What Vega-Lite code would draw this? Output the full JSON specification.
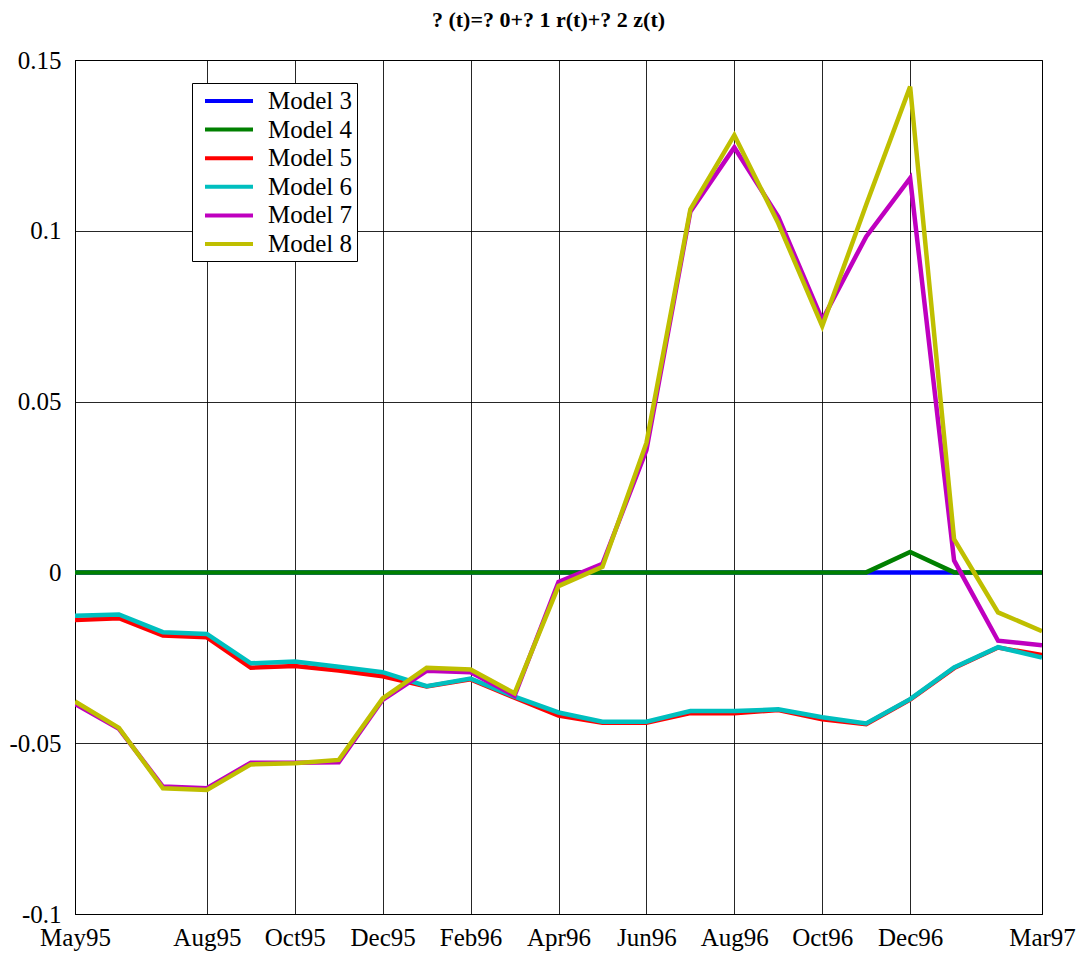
{
  "$schema": "https://vega.github.io/schema/vega-lite/v6.json",
  "width": 967,
  "height": 854,
  "autosize": {"type": "none"},
  "padding": {"left": 75, "top": 60, "right": 38, "bottom": 42},
  "background": "white",
  "title": {
    "text": "? (t)=? 0+? 1 r(t)+? 2 z(t)",
    "font": "Liberation Serif",
    "fontSize": 22,
    "fontWeight": "bold",
    "color": "black",
    "anchor": "middle",
    "dx": -10,
    "offset": 16
  },
  "config": {
    "font": "Liberation Serif",
    "view": {"stroke": "black", "strokeWidth": 1},
    "axis": {
      "labelFont": "Liberation Serif",
      "labelFontSize": 25,
      "labelColor": "black",
      "domainColor": "black",
      "gridColor": "black",
      "gridOpacity": 0.85,
      "gridWidth": 1,
      "tickSize": 0,
      "title": null
    }
  },
  "data": {
    "values": [
      {"m":"May95","model":"Model 3","v":0},{"m":"Jun95","model":"Model 3","v":0},{"m":"Jul95","model":"Model 3","v":0},{"m":"Aug95","model":"Model 3","v":0},{"m":"Sep95","model":"Model 3","v":0},{"m":"Oct95","model":"Model 3","v":0},{"m":"Nov95","model":"Model 3","v":0},{"m":"Dec95","model":"Model 3","v":0},{"m":"Jan96","model":"Model 3","v":0},{"m":"Feb96","model":"Model 3","v":0},{"m":"Mar96","model":"Model 3","v":0},{"m":"Apr96","model":"Model 3","v":0},{"m":"May96","model":"Model 3","v":0},{"m":"Jun96","model":"Model 3","v":0},{"m":"Jul96","model":"Model 3","v":0},{"m":"Aug96","model":"Model 3","v":0},{"m":"Sep96","model":"Model 3","v":0},{"m":"Oct96","model":"Model 3","v":0},{"m":"Nov96","model":"Model 3","v":0},{"m":"Dec96","model":"Model 3","v":0},{"m":"Jan97","model":"Model 3","v":0},{"m":"Feb97","model":"Model 3","v":0},{"m":"Mar97","model":"Model 3","v":0},
      {"m":"May95","model":"Model 4","v":0},{"m":"Jun95","model":"Model 4","v":0},{"m":"Jul95","model":"Model 4","v":0},{"m":"Aug95","model":"Model 4","v":0},{"m":"Sep95","model":"Model 4","v":0},{"m":"Oct95","model":"Model 4","v":0},{"m":"Nov95","model":"Model 4","v":0},{"m":"Dec95","model":"Model 4","v":0},{"m":"Jan96","model":"Model 4","v":0},{"m":"Feb96","model":"Model 4","v":0},{"m":"Mar96","model":"Model 4","v":0},{"m":"Apr96","model":"Model 4","v":0},{"m":"May96","model":"Model 4","v":0},{"m":"Jun96","model":"Model 4","v":0},{"m":"Jul96","model":"Model 4","v":0},{"m":"Aug96","model":"Model 4","v":0},{"m":"Sep96","model":"Model 4","v":0},{"m":"Oct96","model":"Model 4","v":0},{"m":"Nov96","model":"Model 4","v":0},{"m":"Dec96","model":"Model 4","v":0.006},{"m":"Jan97","model":"Model 4","v":0},{"m":"Feb97","model":"Model 4","v":0},{"m":"Mar97","model":"Model 4","v":0},
      {"m":"May95","model":"Model 5","v":-0.0139},{"m":"Jun95","model":"Model 5","v":-0.0134},{"m":"Jul95","model":"Model 5","v":-0.0185},{"m":"Aug95","model":"Model 5","v":-0.019},{"m":"Sep95","model":"Model 5","v":-0.0279},{"m":"Oct95","model":"Model 5","v":-0.0274},{"m":"Nov95","model":"Model 5","v":-0.0287},{"m":"Dec95","model":"Model 5","v":-0.0304},{"m":"Jan96","model":"Model 5","v":-0.0334},{"m":"Feb96","model":"Model 5","v":-0.0313},{"m":"Mar96","model":"Model 5","v":-0.0367},{"m":"Apr96","model":"Model 5","v":-0.0419},{"m":"May96","model":"Model 5","v":-0.044},{"m":"Jun96","model":"Model 5","v":-0.044},{"m":"Jul96","model":"Model 5","v":-0.0412},{"m":"Aug96","model":"Model 5","v":-0.0412},{"m":"Sep96","model":"Model 5","v":-0.0403},{"m":"Oct96","model":"Model 5","v":-0.043},{"m":"Nov96","model":"Model 5","v":-0.0444},{"m":"Dec96","model":"Model 5","v":-0.0372},{"m":"Jan97","model":"Model 5","v":-0.028},{"m":"Feb97","model":"Model 5","v":-0.022},{"m":"Mar97","model":"Model 5","v":-0.0242},
      {"m":"May95","model":"Model 6","v":-0.0127},{"m":"Jun95","model":"Model 6","v":-0.0123},{"m":"Jul95","model":"Model 6","v":-0.0175},{"m":"Aug95","model":"Model 6","v":-0.018},{"m":"Sep95","model":"Model 6","v":-0.0266},{"m":"Oct95","model":"Model 6","v":-0.0261},{"m":"Nov95","model":"Model 6","v":-0.0276},{"m":"Dec95","model":"Model 6","v":-0.0292},{"m":"Jan96","model":"Model 6","v":-0.0333},{"m":"Feb96","model":"Model 6","v":-0.0311},{"m":"Mar96","model":"Model 6","v":-0.0364},{"m":"Apr96","model":"Model 6","v":-0.041},{"m":"May96","model":"Model 6","v":-0.0437},{"m":"Jun96","model":"Model 6","v":-0.0437},{"m":"Jul96","model":"Model 6","v":-0.0406},{"m":"Aug96","model":"Model 6","v":-0.0406},{"m":"Sep96","model":"Model 6","v":-0.0401},{"m":"Oct96","model":"Model 6","v":-0.0424},{"m":"Nov96","model":"Model 6","v":-0.0442},{"m":"Dec96","model":"Model 6","v":-0.0371},{"m":"Jan97","model":"Model 6","v":-0.0278},{"m":"Feb97","model":"Model 6","v":-0.0219},{"m":"Mar97","model":"Model 6","v":-0.0249},
      {"m":"May95","model":"Model 7","v":-0.0385},{"m":"Jun95","model":"Model 7","v":-0.0458},{"m":"Jul95","model":"Model 7","v":-0.0627},{"m":"Aug95","model":"Model 7","v":-0.0632},{"m":"Sep95","model":"Model 7","v":-0.0557},{"m":"Oct95","model":"Model 7","v":-0.0557},{"m":"Nov95","model":"Model 7","v":-0.0556},{"m":"Dec95","model":"Model 7","v":-0.0373},{"m":"Jan96","model":"Model 7","v":-0.0288},{"m":"Feb96","model":"Model 7","v":-0.0292},{"m":"Mar96","model":"Model 7","v":-0.0361},{"m":"Apr96","model":"Model 7","v":-0.0028},{"m":"May96","model":"Model 7","v":0.0025},{"m":"Jun96","model":"Model 7","v":0.0358},{"m":"Jul96","model":"Model 7","v":0.1056},{"m":"Aug96","model":"Model 7","v":0.1244},{"m":"Sep96","model":"Model 7","v":0.1041},{"m":"Oct96","model":"Model 7","v":0.0739},{"m":"Nov96","model":"Model 7","v":0.0983},{"m":"Dec96","model":"Model 7","v":0.1154},{"m":"Jan97","model":"Model 7","v":0.0035},{"m":"Feb97","model":"Model 7","v":-0.02},{"m":"Mar97","model":"Model 7","v":-0.0213},
      {"m":"May95","model":"Model 8","v":-0.0378},{"m":"Jun95","model":"Model 8","v":-0.0455},{"m":"Jul95","model":"Model 8","v":-0.0632},{"m":"Aug95","model":"Model 8","v":-0.0637},{"m":"Sep95","model":"Model 8","v":-0.0562},{"m":"Oct95","model":"Model 8","v":-0.0559},{"m":"Nov95","model":"Model 8","v":-0.0549},{"m":"Dec95","model":"Model 8","v":-0.0369},{"m":"Jan96","model":"Model 8","v":-0.0279},{"m":"Feb96","model":"Model 8","v":-0.0284},{"m":"Mar96","model":"Model 8","v":-0.0354},{"m":"Apr96","model":"Model 8","v":-0.004},{"m":"May96","model":"Model 8","v":0.0016},{"m":"Jun96","model":"Model 8","v":0.0379},{"m":"Jul96","model":"Model 8","v":0.1063},{"m":"Aug96","model":"Model 8","v":0.128},{"m":"Sep96","model":"Model 8","v":0.1022},{"m":"Oct96","model":"Model 8","v":0.0721},{"m":"Nov96","model":"Model 8","v":0.1076},{"m":"Dec96","model":"Model 8","v":0.1422},{"m":"Jan97","model":"Model 8","v":0.0097},{"m":"Feb97","model":"Model 8","v":-0.0117},{"m":"Mar97","model":"Model 8","v":-0.0172}
    ]
  },
  "mark": {"type": "line", "strokeWidth": 4.5, "strokeJoin": "miter", "clip": true},
  "encoding": {
    "x": {
      "field": "m",
      "type": "ordinal",
      "scale": {
        "type": "point",
        "padding": 0,
        "domain": ["May95","Jun95","Jul95","Aug95","Sep95","Oct95","Nov95","Dec95","Jan96","Feb96","Mar96","Apr96","May96","Jun96","Jul96","Aug96","Sep96","Oct96","Nov96","Dec96","Jan97","Feb97","Mar97"]
      },
      "axis": {
        "values": ["May95","Aug95","Oct95","Dec95","Feb96","Apr96","Jun96","Aug96","Oct96","Dec96","Mar97"],
        "labelAngle": 0,
        "labelPadding": 11,
        "grid": true
      }
    },
    "y": {
      "field": "v",
      "type": "quantitative",
      "scale": {"domain": [-0.1, 0.15], "nice": false, "zero": false},
      "axis": {
        "values": [-0.1, -0.05, 0, 0.05, 0.1, 0.15],
        "labelExpr": "'' + datum.value",
        "labelPadding": 14,
        "grid": true
      }
    },
    "color": {
      "field": "model",
      "type": "nominal",
      "scale": {
        "domain": ["Model 3","Model 4","Model 5","Model 6","Model 7","Model 8"],
        "range": ["#0000ff","#008000","#ff0000","#00bfbf","#bf00bf","#bfbf00"]
      },
      "legend": {
        "orient": "none",
        "legendX": 117,
        "legendY": 23,
        "title": null,
        "padding": 4,
        "strokeColor": "black",
        "fillColor": "white",
        "symbolType": "M-2,0H2",
        "symbolSize": 576,
        "symbolStrokeWidth": 4,
        "symbolOffset": 19,
        "labelFont": "Liberation Serif",
        "labelFontSize": 25,
        "labelColor": "black",
        "labelOffset": 25,
        "rowPadding": 1.6,
        "labelLimit": 300
      }
    }
  }
}
